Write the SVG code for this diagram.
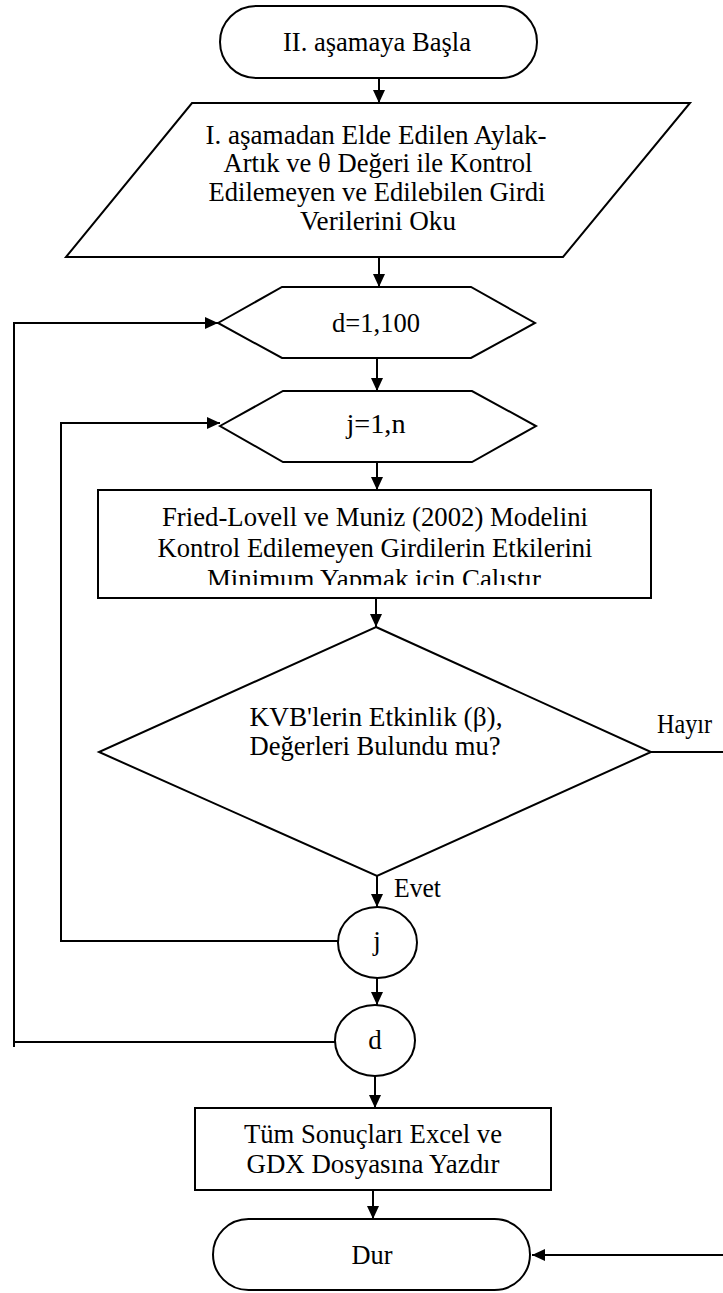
<svg xmlns="http://www.w3.org/2000/svg" width="723" height="1293" viewBox="0 0 723 1293">
  <style>
    .shape { fill: #ffffff; stroke: #000000; stroke-width: 2; }
    .wire { fill: none; stroke: #000000; stroke-width: 2; }
    .lbl { font-family: "Liberation Serif", "Times New Roman", serif; font-size: 27px; fill: #000000; text-anchor: middle; }
    .side { font-family: "Liberation Serif", "Times New Roman", serif; font-size: 27px; fill: #000000; }
  </style>
  <defs>
    <marker id="head" markerUnits="userSpaceOnUse" markerWidth="14" markerHeight="12" refX="13" refY="6" orient="auto">
      <path d="M0,0 L13,6 L0,12 z" fill="#000000"/>
    </marker>
    <clipPath id="runClip">
      <rect x="98" y="490" width="553" height="95"/>
    </clipPath>
  </defs>

  <!-- connectors -->
  <g id="connectors">
    <path class="wire" d="M379,78 V103" marker-end="url(#head)"/>
    <path class="wire" d="M379,257 V287" marker-end="url(#head)"/>
    <path class="wire" d="M377,358 V391" marker-end="url(#head)"/>
    <path class="wire" d="M377,462 V490" marker-end="url(#head)"/>
    <path class="wire" d="M376,598 V627" marker-end="url(#head)"/>
    <path class="wire" d="M377,876 V907" marker-end="url(#head)"/>
    <path class="wire" d="M377,978 V1005" marker-end="url(#head)"/>
    <path class="wire" d="M375,1076 V1108" marker-end="url(#head)"/>
    <path class="wire" d="M373,1190 V1219" marker-end="url(#head)"/>
    <!-- inner loop back to j=1,n -->
    <path class="wire" d="M338,941 H61 V423 H220" marker-end="url(#head)"/>
    <!-- outer loop back to d=1,100 -->
    <path class="wire" d="M335,1042 H14 V323 H218" marker-end="url(#head)"/>
    <line class="wire" x1="14" y1="1042" x2="14" y2="1047"/>
    <!-- "Hayır" branch runs out along the right edge to the end terminal -->
    <path class="wire" d="M651,752 H726 V1255 H532" marker-end="url(#head)"/>
    <text class="side" x="657" y="733" textLength="55" lengthAdjust="spacingAndGlyphs">Hayır</text>
    <text class="side" x="394" y="897" textLength="47" lengthAdjust="spacingAndGlyphs">Evet</text>
  </g>

  <g id="start">
    <rect class="shape" x="220" y="6" width="317" height="72" rx="36" ry="36"/>
    <text class="lbl" x="377" y="51" textLength="188" lengthAdjust="spacingAndGlyphs">II. aşamaya Başla</text>
  </g>

  <g id="read-input">
    <polygon class="shape" points="192,103 690,103 563,257 66,257"/>
    <text class="lbl" x="376" y="144" textLength="341" lengthAdjust="spacingAndGlyphs">I. aşamadan Elde Edilen Aylak-</text>
    <text class="lbl" x="378" y="172" textLength="309" lengthAdjust="spacingAndGlyphs">Artık ve θ Değeri ile Kontrol</text>
    <text class="lbl" x="377" y="201" textLength="337" lengthAdjust="spacingAndGlyphs">Edilemeyen ve Edilebilen Girdi</text>
    <text class="lbl" x="378" y="230" textLength="156" lengthAdjust="spacingAndGlyphs">Verilerini Oku</text>
  </g>

  <g id="loop-d">
    <polygon class="shape" points="218,323 282,287 471,287 535,323 471,358 282,358"/>
    <text class="lbl" x="376" y="332" textLength="88" lengthAdjust="spacingAndGlyphs">d=1,100</text>
  </g>

  <g id="loop-j">
    <polygon class="shape" points="220,426 283,391 472,391 536,426 472,462 283,462"/>
    <text class="lbl" x="376" y="433" textLength="59" lengthAdjust="spacingAndGlyphs">j=1,n</text>
  </g>

  <g id="run-model">
    <rect class="shape" x="98" y="490" width="553" height="108"/>
    <text class="lbl" x="375" y="526" textLength="426" lengthAdjust="spacingAndGlyphs">Fried-Lovell ve Muniz (2002) Modelini</text>
    <text class="lbl" x="375" y="557" textLength="435" lengthAdjust="spacingAndGlyphs">Kontrol Edilemeyen Girdilerin Etkilerini</text>
    <text class="lbl" x="374" y="588" textLength="334" lengthAdjust="spacingAndGlyphs" clip-path="url(#runClip)">Minimum Yapmak için Çalıştır</text>
  </g>

  <g id="check">
    <polygon class="shape" points="376,627 651,752 377,876 99,752"/>
    <text class="lbl" x="376" y="726" textLength="253" lengthAdjust="spacingAndGlyphs">KVB'lerin Etkinlik (β),</text>
    <text class="lbl" x="375" y="755" textLength="251" lengthAdjust="spacingAndGlyphs">Değerleri Bulundu mu?</text>
  </g>

  <g id="next-j">
    <ellipse class="shape" cx="377.5" cy="942.5" rx="39.5" ry="35.5"/>
    <text class="lbl" x="377" y="950">j</text>
  </g>

  <g id="next-d">
    <ellipse class="shape" cx="375" cy="1040.5" rx="40" ry="35.5"/>
    <text class="lbl" x="375" y="1049">d</text>
  </g>

  <g id="write-results">
    <rect class="shape" x="195" y="1108" width="356" height="82"/>
    <text class="lbl" x="373" y="1143" textLength="258" lengthAdjust="spacingAndGlyphs">Tüm Sonuçları Excel ve</text>
    <text class="lbl" x="373" y="1173" textLength="253" lengthAdjust="spacingAndGlyphs">GDX Dosyasına Yazdır</text>
  </g>

  <g id="stop">
    <rect class="shape" x="213" y="1219" width="317" height="71" rx="35.5" ry="35.5"/>
    <text class="lbl" x="372" y="1264" textLength="41" lengthAdjust="spacingAndGlyphs">Dur</text>
  </g>
</svg>
